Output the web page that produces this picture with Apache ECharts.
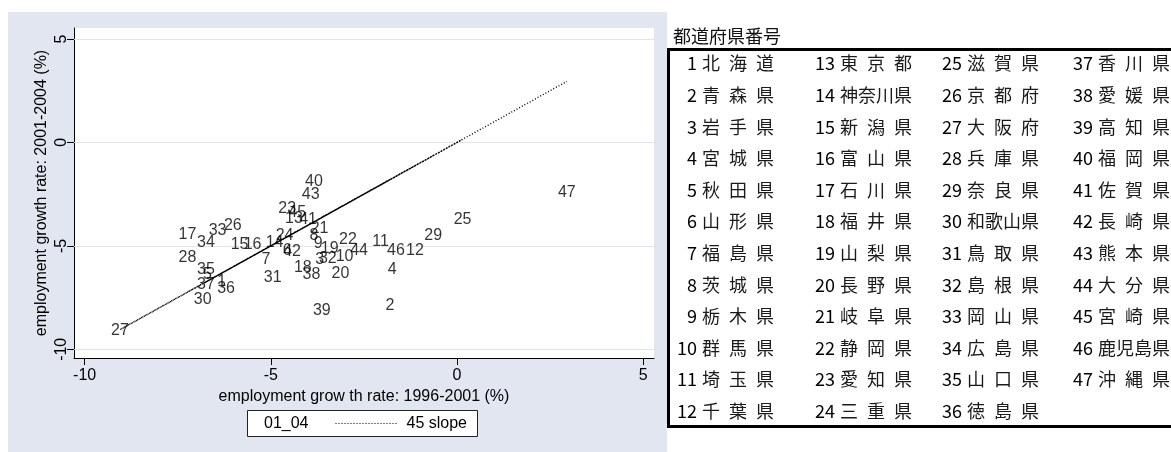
<!DOCTYPE html>
<html>
<head>
<meta charset="utf-8">
<script src="https://cdn.jsdelivr.net/npm/echarts@6/dist/echarts.min.js"></script>
<style>
  html, body { margin: 0; padding: 0; background: #ffffff; }
  #chart { width: 1171px; height: 452px; }
</style>
</head>
<body>
<div id="chart"></div>
<script>
// Prefecture codes (1 = Hokkaido ... 47 = Okinawa)
const prefNo = [
  1, 2, 3, 4, 5, 6, 7, 8, 9, 10, 11, 12, 13, 14, 15, 16, 17, 18, 19, 20, 21, 22, 23, 24,
  25, 26, 27, 28, 29, 30, 31, 32, 33, 34, 35, 36, 37, 38, 39, 40, 41, 42, 43, 44, 45, 46, 47
];
// Employment growth rate 1996-2001 (%)
const growth9601 = [
  -6.32, -1.80, -3.69, -1.74, -6.70, -4.56, -5.13, -3.84, -3.73, -3.02, -2.05, -1.13,
  -4.38, -4.90, -5.84, -5.49, -7.24, -4.14, -3.42, -3.13, -3.69, -2.93, -4.56, -4.63,
   0.15, -6.02, -9.05, -7.24, -0.64, -6.83, -4.95, -3.47, -6.43, -6.74, -6.74, -6.20,
  -6.74, -3.91, -3.63, -3.84, -4.00, -4.43, -3.93, -2.63, -4.29, -1.64,  2.95
];
// Employment growth rate 2001-2004 (%)
const growth0104 = [
  -6.73, -7.90, -5.68, -6.17, -6.41, -5.24, -5.68, -4.52, -4.88, -5.52, -4.79, -5.23,
  -3.67, -4.83, -4.93, -4.93, -4.44, -6.04, -5.12, -6.33, -4.15, -4.72, -3.19, -4.52,
  -3.75, -4.03, -9.10, -5.55, -4.48, -7.62, -6.54, -5.60, -4.27, -4.85, -6.13, -7.05,
  -6.89, -6.41, -8.13, -1.87, -3.75, -5.30, -2.51, -5.23, -3.40, -5.23, -2.43
];
// Prefecture names for the code table
const prefNames = [
  '北海道', '青森県', '岩手県', '宮城県', '秋田県', '山形県', '福島県', '茨城県',
  '栃木県', '群馬県', '埼玉県', '千葉県', '東京都', '神奈川県', '新潟県', '富山県',
  '石川県', '福井県', '山梨県', '長野県', '岐阜県', '静岡県', '愛知県', '三重県',
  '滋賀県', '京都府', '大阪府', '兵庫県', '奈良県', '和歌山県', '鳥取県', '島根県',
  '岡山県', '広島県', '山口県', '徳島県', '香川県', '愛媛県', '高知県', '福岡県',
  '佐賀県', '長崎県', '熊本県', '大分県', '宮崎県', '鹿児島県', '沖縄県'
];
const xTicks = [-10, -5, 0, 5];
const yTicks = [-10, -5, 0, 5];
const tableTitle = '都道府県番号';
const xTitle = 'employment grow th rate: 1996-2001 (%)';
const yTitle = 'employment growth rate: 2001-2004 (%)';
const seriesNames = ['01_04', '45 slope'];

const LATIN = '"Liberation Sans", Arial, sans-serif';
const CJK = '"Noto Sans CJK JP", sans-serif';

// ---- code table (graphic elements) ----
const numRight = [697, 835, 962, 1093];
const rowY0 = 63.5, rowStep = 31.6;
const tableEls = [];
tableEls.push({
  type: 'rect', z: 1,
  shape: { x: 668.5, y: 49.5, width: 620, height: 377 },
  style: { fill: '#ffffff', stroke: '#000000', lineWidth: 3 }
});
tableEls.push({
  type: 'text', z: 2, x: 673, y: 36,
  style: { text: tableTitle, font: '18px ' + CJK, fill: '#111', align: 'left', verticalAlign: 'middle' }
});
prefNo.forEach((n, i) => {
  const col = Math.floor(i / 12), row = i % 12;
  const y = rowY0 + row * rowStep;
  const chars = Array.from(prefNames[i]);
  const cw = chars.length === 3 ? 27 : 18;
  tableEls.push({
    type: 'text', z: 2, x: numRight[col], y: y,
    style: { text: String(n), font: '18px ' + CJK, fill: '#000', align: 'right', verticalAlign: 'middle' }
  });
  tableEls.push({
    type: 'text', z: 2, x: numRight[col] + 5, y: y,
    style: {
      text: chars.map(c => '{w|' + c + '}').join(''),
      rich: { w: { width: cw, font: '18px ' + CJK, fill: '#1a1a1a' } },
      font: '18px ' + CJK, fill: '#1a1a1a', align: 'left', verticalAlign: 'middle'
    }
  });
});

const chart = echarts.init(document.getElementById('chart'), null, { renderer: 'canvas' });

const option = {
  animation: false,
  backgroundColor: '#ffffff',
  textStyle: { fontFamily: LATIN },
  graphic: [
    // graph region
    {
      type: 'rect', z: -10,
      shape: { x: 8, y: 12, width: 659, height: 440 },
      style: { fill: '#e1e6f0' }
    },
    // legend frame
    {
      type: 'rect', z: 1,
      shape: { x: 247.5, y: 410.5, width: 230, height: 26 },
      style: { fill: '#ffffff', stroke: '#222', lineWidth: 1 }
    }
  ].concat(tableEls),
  legend: [
    {
      data: [{ name: seriesNames[0], icon: 'none' }],
      left: 259, top: 415.5, padding: 0, itemWidth: 0, itemHeight: 16,
      selectedMode: false,
      textStyle: { fontFamily: LATIN, fontSize: 16, color: '#000' }
    },
    {
      data: [seriesNames[1]],
      left: 335, top: 415.5, padding: 0, itemWidth: 62, itemHeight: 16, itemGap: 0,
      selectedMode: false,
      itemStyle: { opacity: 0 },
      lineStyle: { color: '#000', width: 1, type: [1, 2], opacity: 1 },
      textStyle: { fontFamily: LATIN, fontSize: 16, color: '#000', padding: [0, 0, 0, 4] }
    }
  ],
  grid: {
    left: 74, top: 28, width: 580, height: 330,
    show: true, backgroundColor: '#ffffff', borderWidth: 0
  },
  xAxis: {
    type: 'value', min: -10.285, max: 5.29,
    name: xTitle, nameLocation: 'middle', nameGap: 26,
    nameTextStyle: { fontFamily: LATIN, fontSize: 16, color: '#000' },
    axisLine: { show: true, onZero: false, lineStyle: { color: '#000', width: 1 } },
    axisTick: { show: true, length: 7, customValues: xTicks, lineStyle: { color: '#000', width: 1 } },
    axisLabel: { customValues: xTicks, fontFamily: LATIN, fontSize: 16, color: '#000', margin: 10 },
    splitLine: { show: false }
  },
  yAxis: {
    type: 'value', min: -10.42, max: 5.53,
    name: yTitle, nameLocation: 'middle', nameGap: 24, nameRotate: 90,
    nameTextStyle: { fontFamily: LATIN, fontSize: 16, color: '#000' },
    axisLine: { show: true, onZero: false, lineStyle: { color: '#000', width: 1 } },
    axisTick: { show: true, length: 7, customValues: yTicks, lineStyle: { color: '#000', width: 1 } },
    axisLabel: { customValues: yTicks, rotate: 90, fontFamily: LATIN, fontSize: 16, color: '#000', margin: 4 },
    splitLine: { show: false }
  },
  series: [
    {
      name: seriesNames[1],
      type: 'line',
      z: 2,
      symbol: 'none',
      data: prefNo.map((n, i) => [growth9601[i], growth9601[i]]),
      lineStyle: { color: '#000', width: 1.4, type: [1, 2] },
      silent: true
    },
    {
      name: seriesNames[0],
      type: 'scatter',
      z: 3,
      symbolSize: 1,
      itemStyle: { color: 'rgba(0,0,0,0)' },
      data: prefNo.map((n, i) => [growth9601[i], growth0104[i], n]),
      label: {
        show: true, position: 'inside',
        formatter: p => String(p.value[2]),
        fontFamily: LATIN, fontSize: 16, color: '#000'
      },
      markLine: {
        silent: true, z: 1, symbol: ['none', 'none'],
        label: { show: false },
        lineStyle: { color: '#dde5ee', type: 'solid', width: 1 },
        data: yTicks.map(v => ({ yAxis: v }))
      }
    }
  ]
};

chart.setOption(option);
</script>
</body>
</html>
